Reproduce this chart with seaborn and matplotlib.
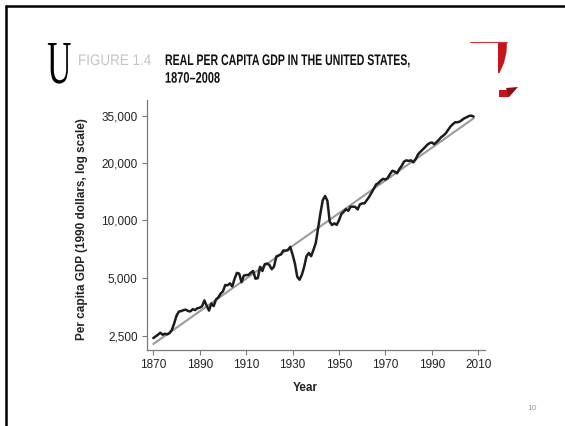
import matplotlib
matplotlib.use("Agg")
import matplotlib.pyplot as plt
import seaborn as sns
import pandas as pd
from matplotlib.lines import Line2D
from matplotlib.patches import Polygon
from matplotlib.patheffects import AbstractPathEffect
from matplotlib.ticker import FixedLocator, NullLocator
from matplotlib.transforms import Affine2D

# values (1990 dollars)
years = list(range(1870, 2009))
gdp = [
    2430, 2480, 2530, 2590, 2530, 2560, 2540, 2580, 2680, 2900,   # 1870s
    3180, 3340, 3360, 3400, 3420, 3360, 3350, 3440, 3400, 3480,   # 1880s
    3500, 3560, 3820, 3580, 3380, 3680, 3570, 3860, 3960, 4150,   # 1890s
    4260, 4600, 4580, 4690, 4520, 4950, 5320, 5270, 4750, 5150,   # 1900s
    5180, 5190, 5330, 5440, 4960, 4990, 5720, 5440, 5900, 5950,   # 1910s
    5850, 5560, 5730, 6480, 6560, 6640, 6960, 6950, 6990, 7270,   # 1920s
    6630, 5950, 5080, 4900, 5200, 5730, 6500, 6760, 6500, 7020,   # 1930s
    7620, 9080, 10900, 12750, 13400, 12650, 9850, 9460, 9650, 9470,  # 1940s
    10020, 10780, 11080, 11430, 11220, 11780, 11790, 11760, 11410, 12110,  # 1950s
    12260, 12270, 12770, 13280, 13920, 14650, 15410, 15650, 16150, 16470,  # 1960s
    16340, 16650, 17470, 18160, 17960, 17610, 18530, 19260, 20260, 20580,  # 1970s
    20420, 20580, 20080, 20820, 22070, 22760, 23390, 24050, 24790, 25300,  # 1980s
    25500, 25000, 25600, 26320, 27180, 27730, 28500, 29670, 30880, 31740,  # 1990s
    32520, 32500, 32780, 33440, 34120, 34530, 35090, 35230, 34820,  # 2000s
]
trend_years = [1870, 2008]
trend_gdp = [2262, 34100]

x_ticks = [1870, 1890, 1910, 1930, 1950, 1970, 1990, 2010]
y_ticks = [2500, 5000, 10000, 20000, 35000]

title_fig = "FIGURE 1.4"
title_1 = "REAL PER CAPITA GDP IN THE UNITED STATES,"
title_2 = "1870\u20132008"
page_no = "10"

W, H = 565, 426


class Squeeze(AbstractPathEffect):
    """squeeze text horizontally (condensed look), keeping left or right end fixed"""
    def __init__(self, sx, keep='left'):
        super().__init__()
        self.sx = sx
        self.keep = keep

    def draw_path(self, renderer, gc, tpath, affine, rgbFace=None):
        x0 = 0 if self.keep == 'left' else tpath.get_extents().x1
        t = Affine2D().translate(-x0, 0).scale(self.sx, 1).translate(x0, 0)
        renderer.draw_path(gc, tpath, t + affine, rgbFace)


def px(x, y):
    return (x / W, 1 - y / H)


sns.set_style("ticks")
plt.rcParams['font.family'] = ['Liberation Sans', 'DejaVu Sans']

fig = plt.figure(figsize=(W / 100, H / 100), dpi=100)
fig.patch.set_facecolor('white')

ax = fig.add_axes([146.7 / W, 1 - 350 / H, (485 - 146.7) / W, 250 / H])

df = pd.DataFrame({'year': years, 'gdp': gdp})
trend = pd.DataFrame({'year': trend_years, 'gdp': trend_gdp})
sns.lineplot(data=trend, x='year', y='gdp', color='#9b9b9b', linewidth=1.5, ax=ax)
sns.lineplot(data=df, x='year', y='gdp', color='#1c1c1c', linewidth=1.8, ax=ax)

ax.set_yscale('log')
ax.set_xlim(1867.15, 2012.9)
ax.set_ylim(2105, 42500)
ax.yaxis.set_major_locator(FixedLocator(y_ticks))
ax.yaxis.set_minor_locator(NullLocator())
ax.set_yticklabels([f'{v:,}' for v in y_ticks])
ax.set_xticks(x_ticks)

for s in ['top', 'right']:
    ax.spines[s].set_visible(False)
for s in ['left', 'bottom']:
    ax.spines[s].set_color('#7a7a7a')
    ax.spines[s].set_linewidth(0.9)
ax.tick_params(axis='both', colors='#7a7a7a', labelcolor='#222222',
               length=3.5, width=0.8, labelsize=8.5, pad=3)

ax.set_xlabel('Year', fontsize=8.5, fontweight='bold', color='#222222')
ax.set_ylabel('Per capita GDP (1990 dollars, log scale)', fontsize=8.5,
              fontweight='bold', color='#222222')
ax.xaxis.set_label_coords((305 - 146.7) / 338.3, -(382 - 350) / 250)
ax.yaxis.set_label_coords((87.5 - 146.7) / 338.3, (350 - 229) / 250)

# slide frame
fig.add_artist(Line2D([6 / W, 1], [1 - 5.5 / H] * 2, color='black', lw=1.8))
fig.add_artist(Line2D([6 / W] * 2, [0, 1 - 5.5 / H], color='black', lw=1.8))

# logo letter, squeezed towards its right edge
fig.text(*px(72, 83), 'U', fontsize=44, family=['Liberation Serif', 'DejaVu Serif'],
         color='black', ha='right', va='baseline', path_effects=[Squeeze(0.55, 'right')])

# red corner decoration
fig.add_artist(Line2D([px(470, 42)[0], px(507, 42)[0]], [px(470, 42)[1]] * 2,
                      color='#d0353a', lw=0.8))
fig.add_artist(Polygon([px(498, 42), px(507, 42), px(506.5, 52), px(504, 63),
                        px(499.5, 73), px(498, 73)], closed=True,
                       transform=fig.transFigure, color='#c4161c', lw=0))
fig.add_artist(Polygon([px(499, 90), px(509, 90), px(509, 97), px(499, 97)],
                       closed=True, transform=fig.transFigure, color='#c4161c', lw=0))
fig.add_artist(Polygon([px(506, 88), px(518, 87), px(509, 97)], closed=True,
                       transform=fig.transFigure, color='#8a0f16', lw=0))

# titles
fig.text(*px(78, 65), title_fig, fontsize=11, color='#c4c4c4', ha='left',
         va='baseline', path_effects=[Squeeze(0.88)])
fig.text(*px(165, 65), title_1, fontsize=11, fontweight='bold', color='#111111',
         ha='left', va='baseline', path_effects=[Squeeze(0.69)])
fig.text(*px(165, 82.7), title_2, fontsize=11, fontweight='bold', color='#111111',
         ha='left', va='baseline', path_effects=[Squeeze(0.72)])

fig.text(*px(532, 409), page_no, fontsize=6, color='#9a9a9a', ha='center', va='center')

fig.savefig('out.png', dpi=100)
